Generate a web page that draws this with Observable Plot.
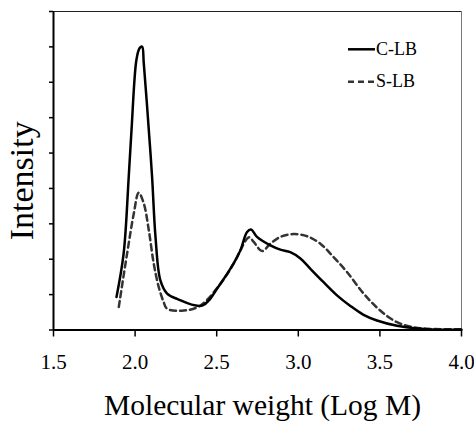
<!DOCTYPE html>
<html>
<head>
<meta charset="utf-8">
<script src="https://cdn.jsdelivr.net/npm/d3@7"></script>
<script src="https://cdn.jsdelivr.net/npm/@observablehq/plot@0.6"></script>
<style>
  html, body { margin: 0; padding: 0; background: #fff; }
  #chart { width: 474px; height: 422px; }
</style>
</head>
<body>
<div id="chart"></div>
<script>
// ---- Data ----
const seriesNames = ["C-LB", "S-LB"];
const xTicks = [1.5, 2.0, 2.5, 3.0, 3.5, 4.0];
const yTicks = [0, 1, 2, 3, 4, 5, 6, 7, 8, 9];

const clbX = [1.886, 1.930, 1.961, 1.978, 2.008, 2.027, 2.043, 2.053, 2.084, 2.104, 2.125, 2.155, 2.196, 2.257, 2.411, 2.523, 2.604, 2.645, 2.686, 2.711, 2.747, 2.829, 2.890, 2.951, 3.013, 3.074, 3.155, 3.237, 3.319, 3.400, 3.482, 3.605, 3.727, 3.850, 4.000];
const clbY = [0.93, 2.17, 4.33, 5.65, 7.63, 7.96, 8.01, 7.55, 5.65, 4.33, 2.63, 1.40, 1.03, 0.88, 0.69, 1.31, 1.88, 2.25, 2.77, 2.84, 2.63, 2.39, 2.27, 2.20, 2.02, 1.73, 1.35, 0.98, 0.68, 0.43, 0.27, 0.12, 0.04, 0.01, 0.01];

const slbX = [1.900, 1.951, 1.992, 2.022, 2.053, 2.084, 2.114, 2.145, 2.175, 2.196, 2.298, 2.400, 2.523, 2.604, 2.645, 2.686, 2.700, 2.727, 2.778, 2.829, 2.890, 2.972, 3.054, 3.135, 3.216, 3.298, 3.400, 3.502, 3.605, 3.706, 3.809, 4.000];
const slbY = [0.65, 2.16, 3.29, 3.88, 3.58, 2.82, 1.88, 1.21, 0.79, 0.60, 0.55, 0.69, 1.31, 1.88, 2.25, 2.58, 2.62, 2.49, 2.23, 2.44, 2.63, 2.71, 2.65, 2.44, 2.06, 1.64, 1.03, 0.55, 0.22, 0.08, 0.03, 0.02];

const xLabel = "Molecular weight (Log M)";
const yLabel = "Intensity";

// ---- Build table ----
const rows = [
  ...clbX.map((x, i) => ({series: seriesNames[0], x, y: clbY[i]})),
  ...slbX.map((x, i) => ({series: seriesNames[1], x, y: slbY[i]}))
];
const serif = "'Liberation Serif', 'Times New Roman', serif";
const styles = {
  "C-LB": {stroke: "#000", dash: null},
  "S-LB": {stroke: "#333", dash: "6,4"}
};

function legendMark(index, scales, values, dims) {
  const g = d3.create("svg:g");
  const right = dims.width - dims.marginRight;
  const top = dims.marginTop;
  seriesNames.forEach((s, i) => {
    const y = top + 38.3 + i * 32.4;
    g.append("line")
      .attr("x1", right - 113).attr("x2", right - 86)
      .attr("y1", y).attr("y2", y)
      .attr("stroke", styles[s].stroke)
      .attr("stroke-width", 2.5)
      .attr("stroke-dasharray", styles[s].dash);
    g.append("text")
      .attr("x", right - 85).attr("y", y).attr("dy", "0.32em")
      .attr("text-anchor", "start")
      .style("font-family", serif)
      .style("font-size", "18px")
      .attr("fill", "#000")
      .text(s);
  });
  return g.node();
}

const chart = Plot.plot({
  width: 474,
  height: 422,
  marginLeft: 53,
  marginTop: 11,
  marginRight: 13,
  marginBottom: 92.5,
  style: {fontFamily: serif, background: "#fff", color: "#000"},
  x: {domain: [1.5, 4.0]},
  y: {domain: [0, 9]},
  marks: [
    Plot.ruleY([9], {stroke: "#222", strokeWidth: 1}),
    Plot.ruleX([4], {stroke: "#777", strokeWidth: 1}),
    Plot.axisY({ticks: yTicks, tickSize: 4, tickFormat: () => "", label: null, strokeWidth: 1.5}),
    Plot.axisX({ticks: xTicks, tickSize: 7, tickPadding: 17, tickFormat: d => d.toFixed(1), fontSize: 21, fontFamily: serif, label: null, strokeWidth: 1.5}),
    Plot.line(rows.filter(d => d.series === "S-LB"), {x: "x", y: "y", stroke: styles["S-LB"].stroke, strokeWidth: 2.5, strokeDasharray: styles["S-LB"].dash, curve: "catmull-rom"}),
    Plot.line(rows.filter(d => d.series === "C-LB"), {x: "x", y: "y", stroke: styles["C-LB"].stroke, strokeWidth: 2.5, curve: "catmull-rom"}),
    Plot.ruleX([1.5], {stroke: "#000", strokeWidth: 2}),
    Plot.ruleY([0], {stroke: "#000", strokeWidth: 2}),
    Plot.text([xLabel], {frameAnchor: "bottom", lineAnchor: "middle", textAnchor: "middle", dx: 5, dy: 76, fontSize: 29.5, fontFamily: serif, fill: "#000"}),
    Plot.text([yLabel], {frameAnchor: "left", lineAnchor: "middle", textAnchor: "middle", rotate: -90, dx: -31, dy: 10, fontSize: 34, fontFamily: serif, fill: "#000"}),
    legendMark
  ]
});
document.getElementById("chart").appendChild(chart);
</script>
</body>
</html>
